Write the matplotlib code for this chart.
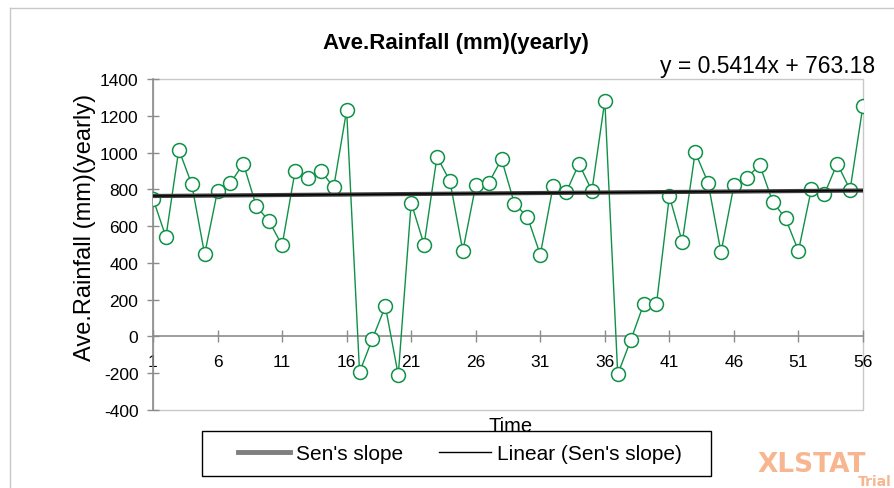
import matplotlib
matplotlib.use("Agg")
import matplotlib.pyplot as plt
from matplotlib.lines import Line2D
from matplotlib.patches import Rectangle
import numpy as np

plt.rcParams['font.family'] = ['Liberation Sans', 'DejaVu Sans']
plt.rcParams['axes.unicode_minus'] = False

# yearly average rainfall
years = list(range(1, 57))
rainfall = [749, 541, 1016, 828, 447, 792, 834, 940, 709, 626,
            495, 897, 859, 899, 812, 1230, -195, -12, 164, -210,
            727, 499, 977, 845, 465, 821, 834, 964, 722, 651,
            445, 819, 783, 939, 792, 1282, -206, -22, 174, 175,
            763, 514, 1002, 836, 457, 821, 863, 933, 733, 642,
            465, 801, 772, 940, 798, 1255]

# trend from the equation printed on the chart
slope = 0.5414
intercept = 763.18

x_ticks = list(range(1, 57, 5))
y_ticks = list(range(-400, 1401, 200))

green = '#0f9147'
grey_axis = '#8c8c8c'
grey_box = '#c8c8c8'
W, H = 895, 489

fig = plt.figure(figsize=(8.95, 4.89), dpi=100)
ax = fig.add_axes([153 / W, 78 / H, 710 / W, 331 / H])

x = np.array(years)
trend = slope * x + intercept

ax.plot(x, rainfall, color=green, lw=1, marker='o', ms=10,
        mfc='white', mec=green, mew=1.1, zorder=3)
ax.plot(x, trend, color='#404040', lw=3, solid_capstyle='butt', zorder=4)
ax.plot(x, trend, color='black', lw=1, zorder=5)

ax.set_xlim(1, 56)
ax.set_ylim(-400, 1400)
ax.set_xticks(x_ticks)
ax.set_yticks(y_ticks)

for s in ['top', 'right']:
    ax.spines[s].set_visible(False)
ax.spines['bottom'].set_position(('data', 0))
ax.spines['bottom'].set_color(grey_axis)
ax.spines['left'].set_color(grey_axis)
ax.spines['bottom'].set_linewidth(1.2)
ax.spines['left'].set_linewidth(1.2)
ax.add_patch(Rectangle((0, 0), 1, 1, transform=ax.transAxes, fill=False,
                       ec=grey_box, lw=1, zorder=0, clip_on=False))

ax.tick_params(axis='both', direction='inout', length=9, color=grey_axis,
               width=1, labelsize=12.5, labelcolor='black')
ax.tick_params(axis='x', pad=8)
ax.tick_params(axis='y', pad=6)

fig.text(456 / W, 1 - 44 / H, 'Ave.Rainfall (mm)(yearly)', ha='center',
         va='center', fontsize=16, fontweight='bold')
fig.text(85 / W, 1 - 227 / H, 'Ave.Rainfall (mm)(yearly)', ha='center',
         va='center', rotation=90, fontsize=17)
fig.text(511 / W, 1 - 427 / H, 'Time', ha='center', va='center', fontsize=14.5)
fig.text(875 / W, 1 - 66 / H, 'y = 0.5414x + 763.18', ha='right',
         va='center', fontsize=16.5)

# legend: entries without frame, box drawn separately (wide side padding)
handles = [Line2D([], [], color='#7f7f7f', lw=3.5),
           Line2D([], [], color='black', lw=1)]
leg = fig.legend(handles, ["Sen's slope", "Linear (Sen's slope)"], ncol=2,
                 loc='center', bbox_to_anchor=(460 / W, 1 - 454.5 / H),
                 fontsize=15, frameon=False,
                 handlelength=2.5, handletextpad=0.3, columnspacing=1.7)
fig.add_artist(Rectangle((202 / W, 1 - 477 / H), 509 / W, 45 / H,
                         transform=fig.transFigure, fill=False,
                         ec='black', lw=1))

fig.text(758 / W, 1 - 465 / H, 'XLSTAT', ha='left', va='center',
         fontsize=19, fontweight='bold', color='#f7b690',
         family=['DejaVu Sans'])
fig.text(892 / W, 1 - 482.5 / H, 'Trial', ha='right', va='center',
         fontsize=10, fontweight='bold', color='#f7b690',
         family=['DejaVu Sans'])

# outer chart border
fig.add_artist(Line2D([10 / W, 10 / W], [0, 1 - 9 / H],
                      transform=fig.transFigure, color=grey_box, lw=1))
fig.add_artist(Line2D([10 / W, 1], [1 - 9 / H, 1 - 9 / H],
                      transform=fig.transFigure, color=grey_box, lw=1))

fig.savefig('out.png', dpi=100)
